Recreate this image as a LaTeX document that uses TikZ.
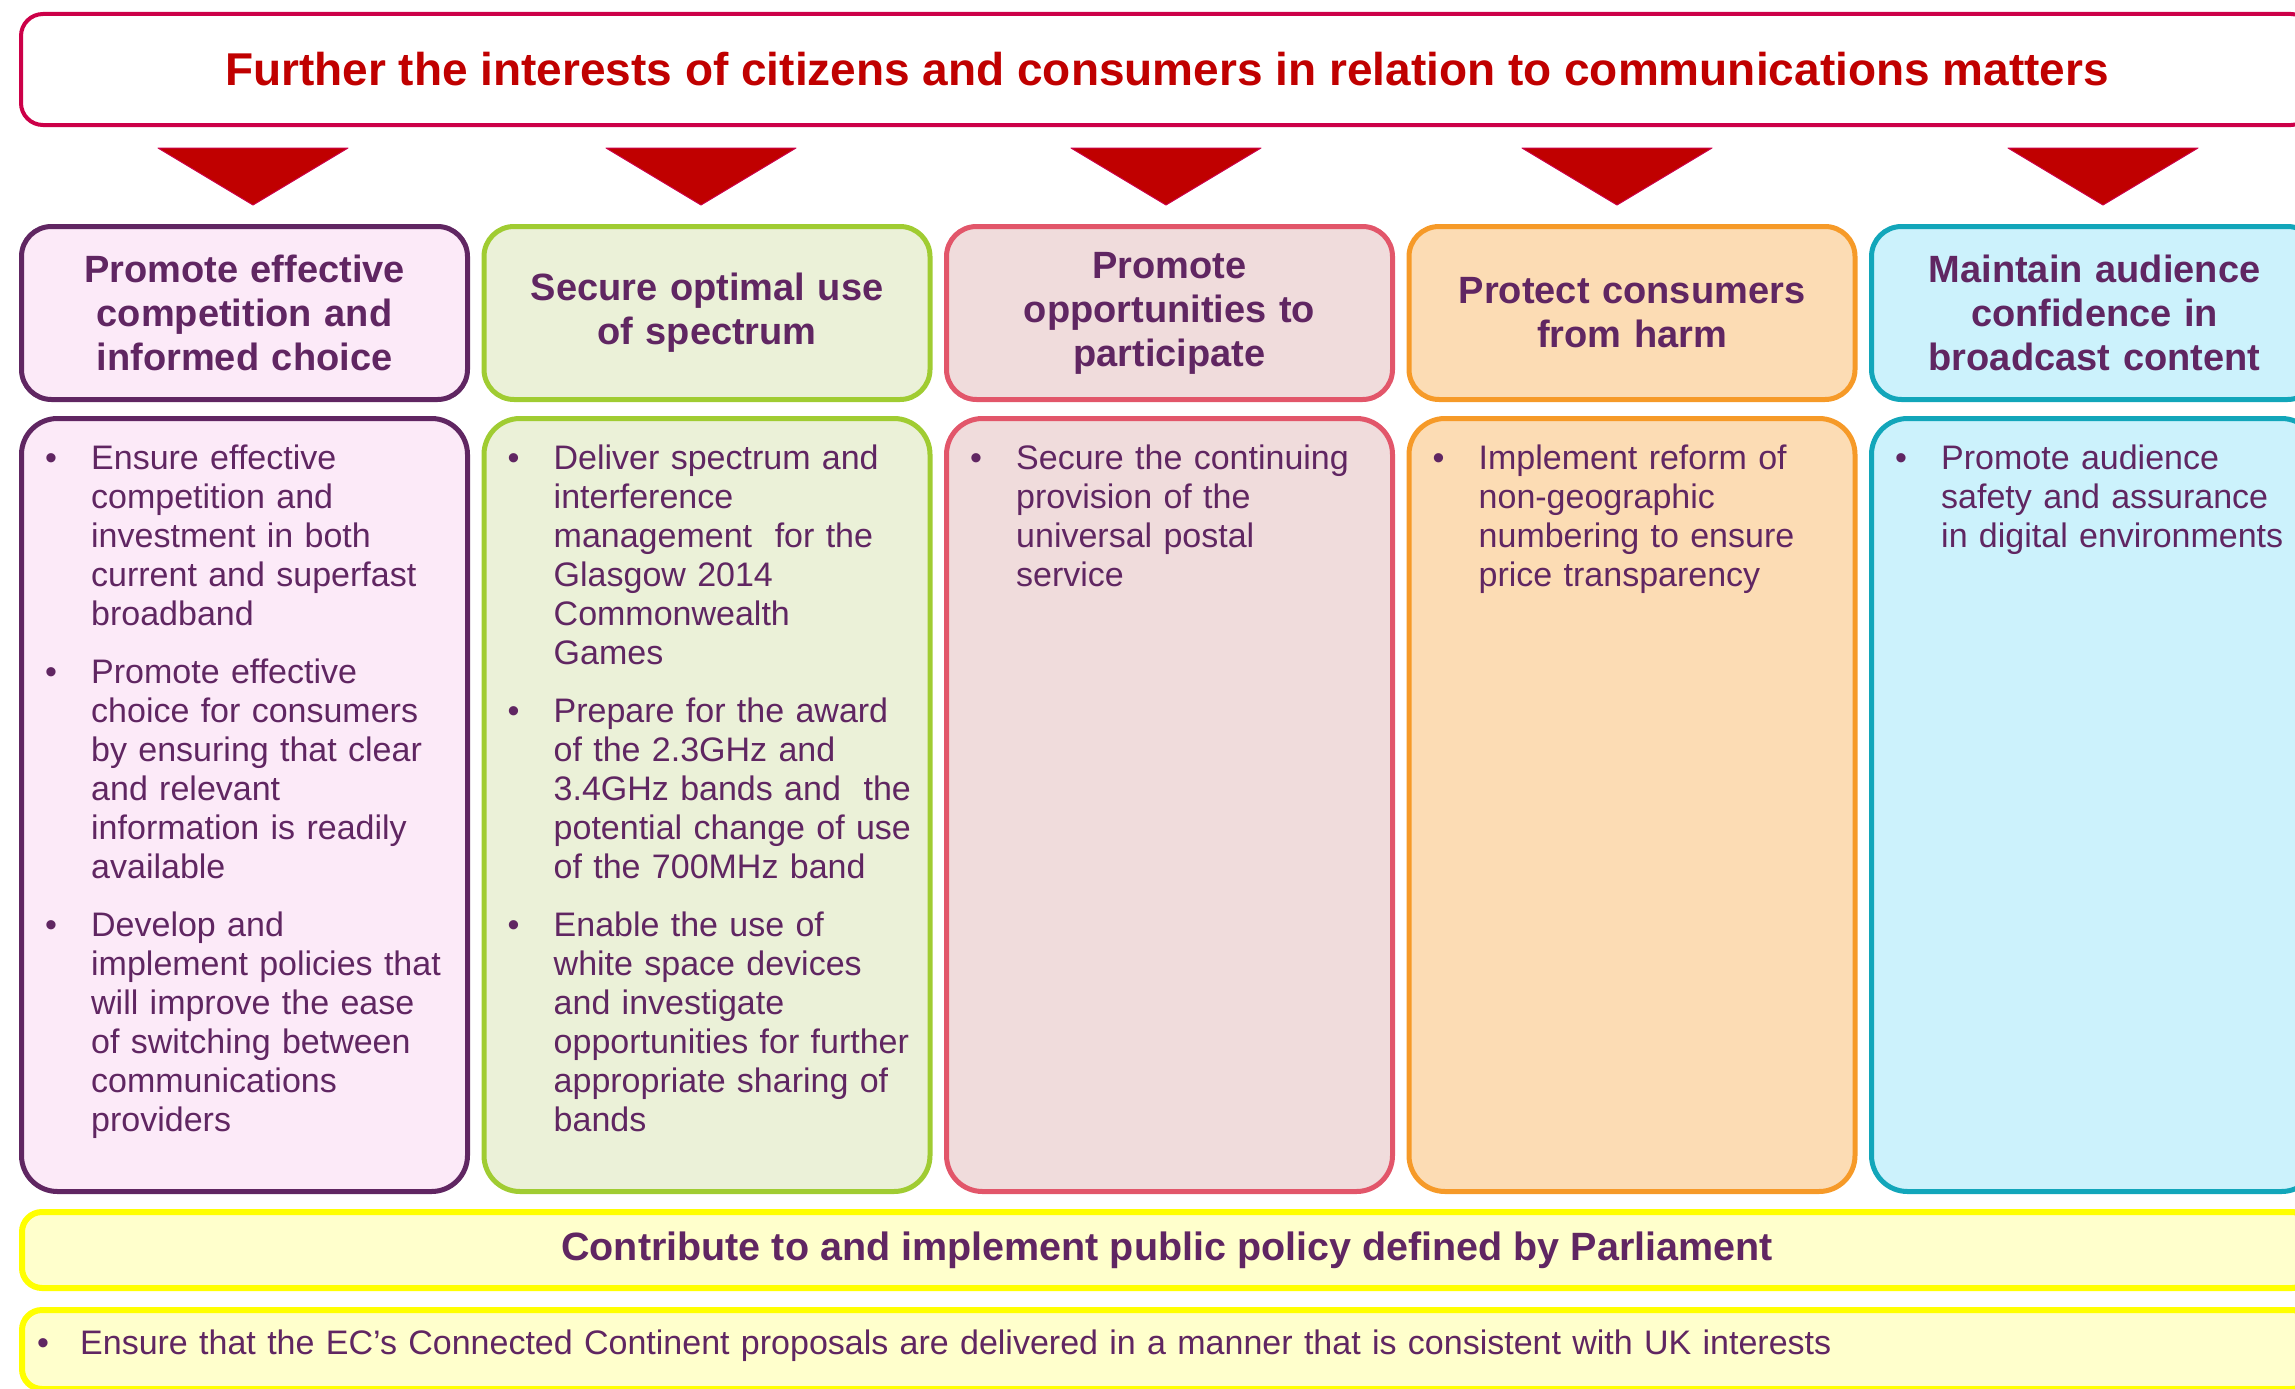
\documentclass[tikz,border=0pt]{standalone}
\usepackage{fontspec}
\setmainfont{Liberation Sans}
\usetikzlibrary{positioning}

\definecolor{ofred}{RGB}{192,0,0}
\definecolor{ofcrimson}{RGB}{204,0,72}
\definecolor{ofpurple}{RGB}{96,38,98}
\definecolor{ofyellow}{RGB}{255,255,0}
\definecolor{ofcream}{RGB}{255,255,204}

% one bullet point with hanging lines
\newcommand{\bitem}[1]{\noindent\makebox[46pt][l]{\textbullet}%
  \parbox[t]{440pt}{\strut#1\strut}\par\vspace{18pt}}

\tikzset{%
  % Specifications for style of nodes:
         base/.style = {rectangle, rounded corners=30pt, line width=5pt,
                        inner sep=0pt, text=ofpurple},
       topbox/.style = {base, draw=ofcrimson, line width=4pt, rounded corners=22pt,
                        fill=white, minimum width=2292pt, minimum height=111pt,
                        font=\fontsize{46}{52}\selectfont\bfseries, text=ofred},
         head/.style = {base, minimum width=446pt, minimum height=173pt,
                        text width=420pt, align=center,
                        font=\fontsize{38}{44}\selectfont\bfseries},
         body/.style = {base, rounded corners=36pt, minimum width=446pt,
                        minimum height=773pt},
     bodytext/.style = {inner sep=0pt, text width=490pt, text=ofpurple,
                        font=\fontsize{34}{39}\selectfont},
       policy/.style = {base, rounded corners=20pt, draw=ofyellow, line width=6pt,
                        fill=ofcream, minimum width=2290pt},
      downtri/.style = {fill=ofred, draw=ofcrimson, line width=1pt, line join=round},
  % column colours
      compete/.style = {draw={rgb,255:red,96;green,38;blue,98}, fill={rgb,255:red,252;green,234;blue,248}},
     spectrum/.style = {draw={rgb,255:red,160;green,204;blue,50}, fill={rgb,255:red,235;green,241;blue,216}},
  participate/.style = {draw={rgb,255:red,226;green,86;blue,106}, fill={rgb,255:red,240;green,220;blue,220}},
      protect/.style = {draw={rgb,255:red,246;green,154;blue,40}, fill={rgb,255:red,252;green,220;blue,180}},
     audience/.style = {draw={rgb,255:red,18;green,166;blue,186}, fill={rgb,255:red,204;green,242;blue,252}},
}

\begin{document}
\begin{tikzpicture}[x=1pt, y=-1pt]
\useasboundingbox (0,0) rectangle (2295,1389);

\node (duty) [topbox] at (1167,69.5) {Further the interests of citizens and consumers in relation to communications matters};

\fill[downtri] (158,148) -- (348,148) -- (253,205) -- cycle;
\fill[downtri] (606,148) -- (796,148) -- (701,205) -- cycle;
\fill[downtri] (1071,148) -- (1261,148) -- (1166,205) -- cycle;
\fill[downtri] (1522,148) -- (1712,148) -- (1617,205) -- cycle;
\fill[downtri] (2008,148) -- (2198,148) -- (2103,205) -- cycle;

\node (h1) [head, compete] at (244.5,313) {Promote effective\\competition and\\informed choice};
\node (h2) [head, spectrum, right=11.5pt of h1]    {Secure optimal use\\of spectrum};
\node (h3) [head, participate, right=11.5pt of h2] {Promote\\opportunities to\\participate};
\node (h4) [head, protect, right=11.5pt of h3]     {Protect consumers\\from harm};
\node (h5) [head, audience, right=11.5pt of h4]    {Maintain audience\\confidence in\\broadcast content};

\node (b1) [body, compete, below=14pt of h1]     {};
\node (b2) [body, spectrum, below=14pt of h2]    {};
\node (b3) [body, participate, below=14pt of h3] {};
\node (b4) [body, protect, below=14pt of h4]     {};
\node (b5) [body, audience, below=14pt of h5]    {};

\node (t1) [bodytext, below right=26pt and 26pt of b1.north west] {%
  \bitem{Ensure effective\\competition and\\investment in both\\current and superfast\\broadband}
  \bitem{Promote effective\\choice for consumers\\by ensuring that clear\\and relevant\\information is readily\\available}
  \bitem{Develop and\\implement policies that\\will improve the ease\\of switching between\\communications\\providers}};
\node (t2) [bodytext, below right=26pt and 26pt of b2.north west] {%
  \bitem{Deliver spectrum and\\interference\\management \ for the\\Glasgow 2014\\Commonwealth\\Games}
  \bitem{Prepare for the award\\of the 2.3GHz and\\3.4GHz bands and \ the\\potential change of use\\of the 700MHz band}
  \bitem{Enable the use of\\white space devices\\and investigate\\opportunities for further\\appropriate sharing of\\bands}};
\node (t3) [bodytext, below right=26pt and 26pt of b3.north west] {%
  \bitem{Secure the continuing\\provision of the\\universal postal\\service}};
\node (t4) [bodytext, below right=26pt and 26pt of b4.north west] {%
  \bitem{Implement reform of\\non-geographic\\numbering to ensure\\price transparency}};
\node (t5) [bodytext, below right=26pt and 26pt of b5.north west] {%
  \bitem{Promote audience\\safety and assurance\\in digital environments}};

\node (pol) [policy, minimum height=76pt, font=\fontsize{39.5}{44}\selectfont\bfseries] at (1167,1250)
  {Contribute to and implement public policy defined by Parliament};
\node (ec) [policy, minimum height=79pt] at (1167,1349.5) {};
\node (ectext) [bodytext, text width=2200pt, font=\fontsize{34}{40}\selectfont, right=18pt of ec.west, yshift=4pt]
  {\makebox[43pt][l]{\textbullet}Ensure that the EC's Connected Continent proposals are delivered in a manner that is consistent with UK interests};
\end{tikzpicture}
\end{document}
